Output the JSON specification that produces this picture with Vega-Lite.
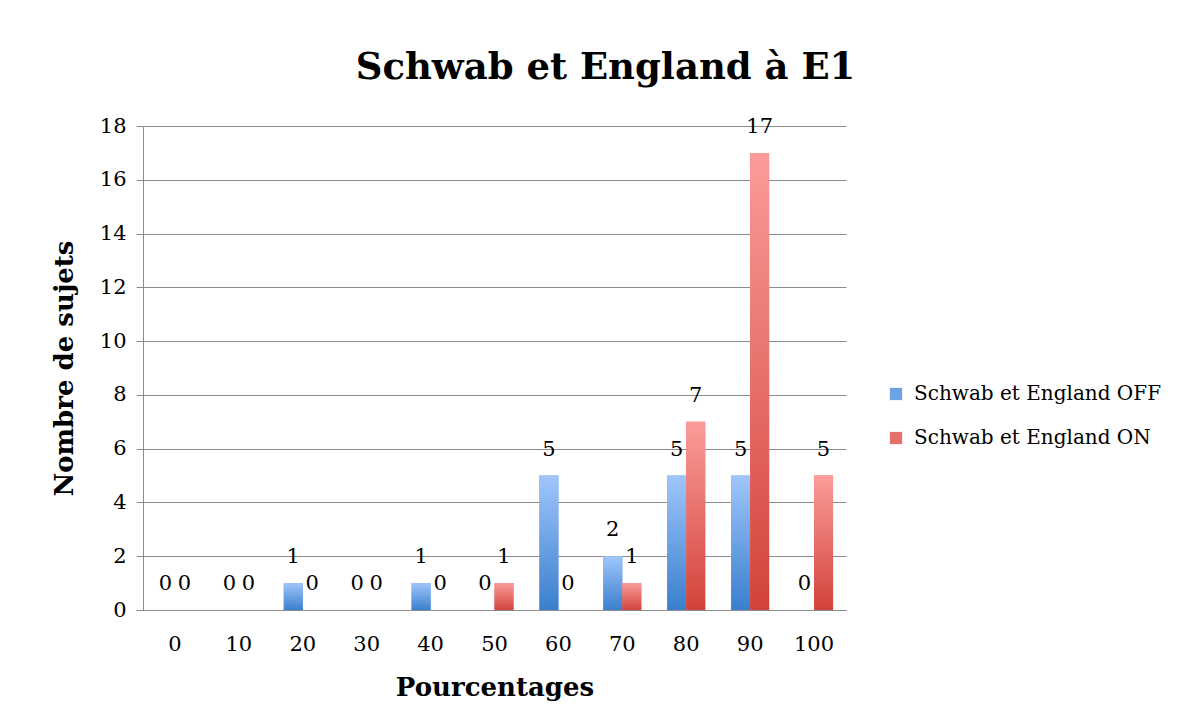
{
  "$schema": "https://vega.github.io/schema/vega-lite/v6.json",
  "width": 703,
  "height": 484,
  "autosize": {"type": "none"},
  "padding": {"left": 143, "top": 126, "right": 343, "bottom": 118},
  "background": "white",
  "title": {
    "text": "Schwab et England à E1",
    "font": "DejaVu Serif",
    "fontSize": 37,
    "fontWeight": "bold",
    "color": "black",
    "anchor": "middle",
    "dx": 111,
    "offset": 28
  },
  "data": {
    "values": [
      {"pct": "0", "serie": "Schwab et England OFF", "n": 0},
      {"pct": "0", "serie": "Schwab et England ON", "n": 0},
      {"pct": "10", "serie": "Schwab et England OFF", "n": 0},
      {"pct": "10", "serie": "Schwab et England ON", "n": 0},
      {"pct": "20", "serie": "Schwab et England OFF", "n": 1},
      {"pct": "20", "serie": "Schwab et England ON", "n": 0},
      {"pct": "30", "serie": "Schwab et England OFF", "n": 0},
      {"pct": "30", "serie": "Schwab et England ON", "n": 0},
      {"pct": "40", "serie": "Schwab et England OFF", "n": 1},
      {"pct": "40", "serie": "Schwab et England ON", "n": 0},
      {"pct": "50", "serie": "Schwab et England OFF", "n": 0},
      {"pct": "50", "serie": "Schwab et England ON", "n": 1},
      {"pct": "60", "serie": "Schwab et England OFF", "n": 5},
      {"pct": "60", "serie": "Schwab et England ON", "n": 0},
      {"pct": "70", "serie": "Schwab et England OFF", "n": 2},
      {"pct": "70", "serie": "Schwab et England ON", "n": 1},
      {"pct": "80", "serie": "Schwab et England OFF", "n": 5},
      {"pct": "80", "serie": "Schwab et England ON", "n": 7},
      {"pct": "90", "serie": "Schwab et England OFF", "n": 5},
      {"pct": "90", "serie": "Schwab et England ON", "n": 17},
      {"pct": "100", "serie": "Schwab et England OFF", "n": 0},
      {"pct": "100", "serie": "Schwab et England ON", "n": 5}
    ]
  },
  "encoding": {
    "x": {
      "field": "pct",
      "type": "ordinal",
      "sort": null,
      "scale": {"paddingInner": 0.405, "paddingOuter": 0.2025},
      "axis": {
        "title": "Pourcentages",
        "titleFont": "DejaVu Serif",
        "titleFontSize": 26,
        "titleFontWeight": "bold",
        "titleColor": "black",
        "titlePadding": 20,
        "labelFont": "DejaVu Serif",
        "labelFontSize": 21,
        "labelColor": "black",
        "labelAngle": 0,
        "labelPadding": 23,
        "ticks": false,
        "domainColor": "#8c8c8c",
        "grid": false
      }
    },
    "xOffset": {"field": "serie", "type": "nominal", "scale": {"domain": ["Schwab et England OFF", "Schwab et England ON"], "paddingInner": 0, "paddingOuter": 0}},
    "y": {
      "field": "n",
      "type": "quantitative",
      "scale": {"domain": [0, 18], "nice": false},
      "axis": {
        "title": "Nombre de sujets",
        "titleFont": "DejaVu Serif",
        "titleFontSize": 26,
        "titleFontWeight": "bold",
        "titleColor": "black",
        "titlePadding": 22,
        "values": [0, 2, 4, 6, 8, 10, 12, 14, 16, 18],
        "labelFont": "DejaVu Serif",
        "labelFontSize": 21,
        "labelColor": "black",
        "labelPadding": 10,
        "tickColor": "#8c8c8c",
        "tickSize": 7,
        "domainColor": "#8c8c8c",
        "gridColor": "#8c8c8c",
        "gridOpacity": 1
      }
    }
  },
  "layer": [
    {
      "mark": {"type": "bar"},
      "encoding": {
        "color": {
          "field": "serie",
          "type": "nominal",
          "scale": {
            "domain": ["Schwab et England OFF", "Schwab et England ON"],
            "range": ["#6ba2e4", "#e6706a"]
          },
          "legend": {
            "title": null,
            "orient": "none",
            "legendX": 743,
            "legendY": 258,
            "labelFont": "DejaVu Serif",
            "labelFontSize": 20,
            "labelColor": "black",
            "labelLimit": 400,
            "symbolType": "square",
            "symbolSize": 150,
            "symbolStrokeWidth": 0,
            "rowPadding": 24,
            "labelOffset": 8,
            "symbolOpacity": 1
          }
        }
      }
    },
    {
      "transform": [{"filter": "datum.serie === 'Schwab et England OFF'"}],
      "mark": {"type": "bar", "fill": {"gradient": "linear", "x1": 0, "y1": 0, "x2": 0, "y2": 1, "stops": [{"offset": 0, "color": "#a0c6fb"}, {"offset": 1, "color": "#3a7fcd"}]}}
    },
    {
      "transform": [{"filter": "datum.serie === 'Schwab et England ON'"}],
      "mark": {"type": "bar", "fill": {"gradient": "linear", "x1": 0, "y1": 0, "x2": 0, "y2": 1, "stops": [{"offset": 0, "color": "#fb9c99"}, {"offset": 1, "color": "#d2433a"}]}}
    },
    {
      "mark": {"type": "text", "font": "DejaVu Serif", "fontSize": 21, "color": "black", "baseline": "middle", "dy": -26},
      "encoding": {
        "text": {"field": "n", "type": "quantitative"}
      }
    }
  ],
  "config": {"view": {"stroke": null}}
}
